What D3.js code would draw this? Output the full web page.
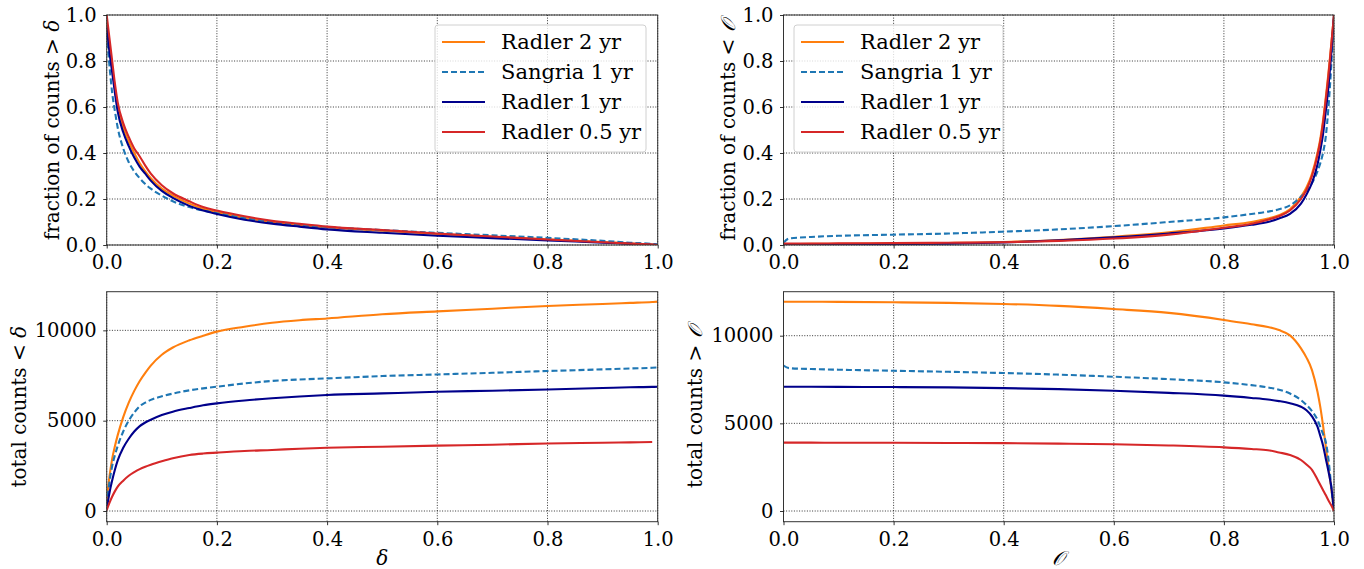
<!DOCTYPE html>
<html>
<head>
<meta charset="utf-8">
<script src="https://cdn.jsdelivr.net/npm/d3@7"></script>
<style>
  html, body { margin: 0; padding: 0; background: #fff; }
  svg { display: block; }
  text { font-family: "DejaVu Serif", "Liberation Serif", serif; }
</style>
</head>
<body>
<svg id="chart" width="1364" height="569"></svg>
<script>
// ---------------- DATA ----------------
const seriesNames = ["Radler 2 yr", "Sangria 1 yr", "Radler 1 yr", "Radler 0.5 yr"];

// delta grid (left panels)
const deltaGrid = [0, 0.005, 0.01, 0.015, 0.02, 0.03, 0.04, 0.05, 0.06, 0.07, 0.08, 0.1, 0.12, 0.15, 0.175, 0.2, 0.25, 0.3, 0.35, 0.4, 0.5, 0.6, 0.7, 0.8, 0.9, 0.95, 0.99, 1.0];

// fraction of counts > delta (top-left)
const fracDeltaRadler2 = [0.97, 0.86, 0.77, 0.68, 0.6, 0.51, 0.45, 0.40, 0.355, 0.32, 0.29, 0.245, 0.215, 0.18, 0.158, 0.143, 0.118, 0.1, 0.087, 0.077, 0.062, 0.048, 0.036, 0.025, 0.013, 0.007, 0.002, 0];
const fracDeltaSangria1 = [0.92, 0.78, 0.66, 0.58, 0.51, 0.42, 0.36, 0.32, 0.29, 0.265, 0.245, 0.215, 0.19, 0.165, 0.15, 0.138, 0.116, 0.1, 0.088, 0.078, 0.065, 0.053, 0.042, 0.031, 0.018, 0.01, 0.005, 0.003];
const fracDeltaRadler1 = [0.95, 0.84, 0.75, 0.66, 0.58, 0.49, 0.43, 0.38, 0.34, 0.31, 0.28, 0.235, 0.205, 0.17, 0.15, 0.135, 0.11, 0.093, 0.08, 0.068, 0.053, 0.04, 0.03, 0.02, 0.01, 0.005, 0.001, 0];
const fracDeltaRadler05 = [1.0, 0.9, 0.8, 0.7, 0.62, 0.53, 0.47, 0.42, 0.385, 0.345, 0.31, 0.26, 0.225, 0.19, 0.165, 0.15, 0.125, 0.105, 0.092, 0.08, 0.065, 0.05, 0.037, 0.024, 0.012, 0.006, 0.002, 0];

// total counts < delta (bottom-left)
const countDeltaRadler2 = [600, 1900, 2900, 3600, 4200, 5200, 6000, 6650, 7200, 7650, 8050, 8650, 9050, 9450, 9700, 9930, 10200, 10420, 10560, 10660, 10890, 11050, 11200, 11350, 11460, 11520, 11570, 11590];
const countDeltaSangria1 = [300, 1600, 2500, 3100, 3600, 4400, 5000, 5450, 5800, 6000, 6150, 6350, 6500, 6680, 6790, 6880, 7060, 7200, 7280, 7340, 7470, 7560, 7650, 7750, 7840, 7890, 7930, 7950];
const countDeltaRadler1 = [100, 1000, 1700, 2300, 2800, 3500, 4000, 4400, 4700, 4900, 5050, 5310, 5500, 5700, 5850, 5960, 6120, 6240, 6340, 6420, 6510, 6600, 6660, 6730, 6810, 6850, 6870, 6880];
const countDeltaRadler05 = [50, 450, 800, 1100, 1350, 1680, 1950, 2150, 2320, 2450, 2560, 2750, 2920, 3100, 3180, 3230, 3320, 3380, 3450, 3500, 3560, 3620, 3670, 3740, 3780, 3800, 3820, null];

// O grid (right panels)
const oGrid = [0, 0.01, 0.05, 0.1, 0.2, 0.3, 0.4, 0.5, 0.6, 0.7, 0.8, 0.85, 0.88, 0.9, 0.92, 0.94, 0.95, 0.96, 0.97, 0.975, 0.98, 0.985, 0.99, 0.995, 1.0];

// fraction of counts < O (top-right)
const fracORadler2 = [0.004, 0.004, 0.005, 0.005, 0.007, 0.009, 0.013, 0.022, 0.036, 0.055, 0.085, 0.1, 0.115, 0.13, 0.155, 0.21, 0.25, 0.31, 0.4, 0.46, 0.54, 0.64, 0.75, 0.87, 1.0];
const fracOSangria1 = [0.01, 0.028, 0.035, 0.04, 0.045, 0.05, 0.058, 0.068, 0.082, 0.1, 0.12, 0.135, 0.145, 0.155, 0.172, 0.21, 0.235, 0.27, 0.32, 0.355, 0.4, 0.47, 0.6, 0.78, 1.0];
const fracORadler1 = [0.002, 0.002, 0.002, 0.003, 0.004, 0.006, 0.011, 0.02, 0.033, 0.05, 0.072, 0.088, 0.1, 0.115, 0.135, 0.18, 0.22, 0.27, 0.35, 0.41, 0.48, 0.58, 0.69, 0.83, 1.0];
const fracORadler05 = [0.006, 0.006, 0.006, 0.007, 0.008, 0.01, 0.012, 0.018, 0.028, 0.045, 0.075, 0.092, 0.11, 0.125, 0.15, 0.2, 0.24, 0.3, 0.39, 0.45, 0.53, 0.63, 0.74, 0.87, 1.0];

// total counts > O (bottom-right)
const countORadler2 = [11940, 11940, 11935, 11930, 11905, 11870, 11810, 11700, 11520, 11300, 10900, 10650, 10500, 10320, 10020, 9280, 8750, 8040, 6800, 5950, 4900, 3700, 2450, 1300, 0];
const countOSangria1 = [8290, 8150, 8100, 8060, 8000, 7940, 7870, 7780, 7660, 7520, 7340, 7180, 7050, 6920, 6700, 6330, 6050, 5700, 5200, 4810, 4400, 3950, 2950, 1400, 0];
const countORadler1 = [7090, 7090, 7085, 7080, 7070, 7050, 7010, 6950, 6860, 6740, 6580, 6450, 6360, 6270, 6150, 5950, 5750, 5400, 4810, 4300, 3750, 3000, 2250, 1400, 0];
const countORadler05 = [3900, 3900, 3898, 3895, 3890, 3880, 3870, 3845, 3810, 3740, 3630, 3540, 3470, 3340, 3200, 2910, 2650, 2350, 1800, 1500, 1200, 910, 600, 330, 0];

const xTicks = [0, 0.2, 0.4, 0.6, 0.8, 1.0];
const fracTicks = [0, 0.2, 0.4, 0.6, 0.8, 1.0];
const countTicks = [0, 5000, 10000];

// ---------------- STYLE ----------------
const seriesStyle = [
  { color: "#ff7f0e", dash: null },
  { color: "#1f77b4", dash: "6,3" },
  { color: "#00008b", dash: null },
  { color: "#d62728", dash: null }
];

const svg = d3.select("#chart");
const TICK_FONT = 19.5;
const LABEL_FONT = 20;
const LEGEND_FONT = 21;

const panels = [
  { id: "tl", box: [106.7, 657.7, 15, 245], ydom: [0, 1], yt: fracTicks, yfmt: d3.format(".1f"),
    grid: deltaGrid, ys: [fracDeltaRadler2, fracDeltaSangria1, fracDeltaRadler1, fracDeltaRadler05],
    ylabel: ["fraction of counts > ", "δ"], ylx: 52, legend: { x: 435, y: 25, w: 211, h: 127 }, xlabel: null },
  { id: "tr", box: [783.5, 1334, 15, 245], ydom: [0, 1], yt: fracTicks, yfmt: d3.format(".1f"),
    grid: oGrid, ys: [fracORadler2, fracOSangria1, fracORadler1, fracORadler05],
    ylabel: ["fraction of counts < ", "𝒪"], ylx: 728, legend: { x: 794, y: 25, w: 209, h: 127 }, xlabel: null },
  { id: "bl", box: [106.7, 657.7, 291.7, 521.7], ydom: [-592, 12140], yt: countTicks, yfmt: d3.format("d"),
    grid: deltaGrid, ys: [countDeltaRadler2, countDeltaSangria1, countDeltaRadler1, countDeltaRadler05],
    ylabel: ["total counts < ", "δ"], ylx: 19, legend: null, xlabel: "δ" },
  { id: "br", box: [783.5, 1334, 291.7, 521.7], ydom: [-610, 12510], yt: countTicks, yfmt: d3.format("d"),
    grid: oGrid, ys: [countORadler2, countOSangria1, countORadler1, countORadler05],
    ylabel: ["total counts > ", "𝒪"], ylx: 695, legend: null, xlabel: "𝒪" }
];

panels.forEach(p => {
  const [x0, x1, y0, y1] = p.box;
  const x = d3.scaleLinear().domain([0, 1]).range([x0, x1]);
  const y = d3.scaleLinear().domain(p.ydom).range([y1, y0]);
  const g = svg.append("g");

  // clip
  g.append("clipPath").attr("id", "clip-" + p.id)
    .append("rect").attr("x", x0).attr("y", y0).attr("width", x1 - x0).attr("height", y1 - y0);

  // grid
  const grid = g.append("g").attr("stroke", "#000").attr("stroke-width", 0.8).attr("stroke-dasharray", "1,1.6");
  xTicks.forEach(t => grid.append("line").attr("x1", x(t)).attr("x2", x(t)).attr("y1", y0).attr("y2", y1));
  p.yt.forEach(t => grid.append("line").attr("x1", x0).attr("x2", x1).attr("y1", y(t)).attr("y2", y(t)));

  // lines
  const lineG = g.append("g").attr("clip-path", "url(#clip-" + p.id + ")");
  p.ys.forEach((vals, i) => {
    const pts = p.grid.map((gx, k) => [gx, vals[k]]);
    const line = d3.line()
      .defined(d => d[1] !== null && d[1] !== undefined)
      .x(d => x(d[0])).y(d => y(d[1]))
      .curve(d3.curveMonotoneX);
    lineG.append("path").datum(pts)
      .attr("d", line)
      .attr("fill", "none")
      .attr("stroke", seriesStyle[i].color)
      .attr("stroke-width", 2.1)
      .attr("stroke-linejoin", "round")
      .attr("stroke-dasharray", seriesStyle[i].dash);
  });

  // spines
  g.append("rect").attr("x", x0).attr("y", y0).attr("width", x1 - x0).attr("height", y1 - y0)
    .attr("fill", "none").attr("stroke", "#333").attr("stroke-width", 1);

  // axes
  const xa = g.append("g").attr("transform", `translate(0,${y1})`)
    .call(d3.axisBottom(x).tickValues(xTicks).tickFormat(d3.format(".1f")).tickSize(3.5).tickPadding(6.5));
  const ya = g.append("g").attr("transform", `translate(${x0},0)`)
    .call(d3.axisLeft(y).tickValues(p.yt).tickFormat(p.yfmt).tickSize(3.5).tickPadding(6.5));
  [xa, ya].forEach(a => {
    a.attr("font-family", null);
    a.select(".domain").remove();
    a.selectAll(".tick line").attr("stroke", "#000").attr("stroke-width", 0.8);
    a.selectAll(".tick text").attr("font-size", TICK_FONT).attr("fill", "#000");
  });

  // y label
  const cy = (y0 + y1) / 2;
  const yl = g.append("text")
    .attr("transform", `translate(${p.ylx},${cy}) rotate(-90)`)
    .attr("text-anchor", "middle").attr("dominant-baseline", "central")
    .attr("font-size", LABEL_FONT).attr("fill", "#000");
  yl.append("tspan").text(p.ylabel[0]);
  yl.append("tspan").attr("font-style", "italic").text(p.ylabel[1]);

  // x label
  if (p.xlabel) {
    g.append("text").attr("x", (x0 + x1) / 2).attr("y", 565)
      .attr("text-anchor", "middle")
      .attr("font-size", LABEL_FONT).attr("font-style", "italic").attr("fill", "#000")
      .text(p.xlabel);
  }

  // legend
  if (p.legend) {
    const L = p.legend;
    const lg = g.append("g");
    lg.append("rect").attr("x", L.x).attr("y", L.y).attr("width", L.w).attr("height", L.h)
      .attr("rx", 3).attr("fill", "#fff").attr("fill-opacity", 0.8)
      .attr("stroke", "#d0d0d0").attr("stroke-width", 1);
    seriesNames.forEach((name, i) => {
      const ey = L.y + 17 + i * 30;
      lg.append("line").attr("x1", L.x + 7).attr("x2", L.x + 50).attr("y1", ey).attr("y2", ey)
        .attr("stroke", seriesStyle[i].color).attr("stroke-width", 2.1)
        .attr("stroke-dasharray", seriesStyle[i].dash);
      lg.append("text").attr("x", L.x + 66).attr("y", ey).attr("dominant-baseline", "central")
        .attr("font-size", LEGEND_FONT).attr("fill", "#000").text(name);
    });
  }
});
</script>
</body>
</html>
